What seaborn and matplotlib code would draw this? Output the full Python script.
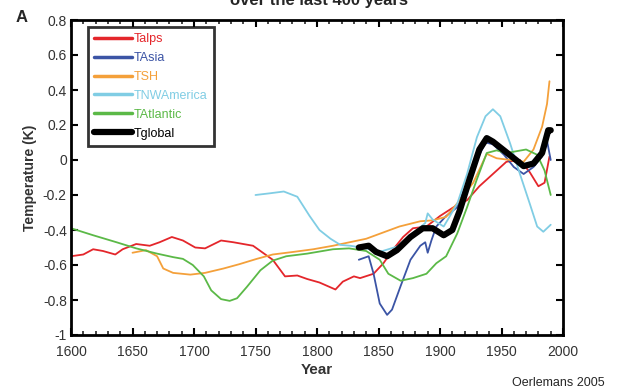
import matplotlib
matplotlib.use('Agg')
import matplotlib.pyplot as plt
import matplotlib.ticker as ticker
import seaborn as sns
import numpy as np

sns.set_style('ticks')
plt.rcParams['font.family'] = ['Liberation Sans', 'DejaVu Sans']

# ---- data (year, temperature anomaly K) ----
alps_year = [1600, 1610, 1618, 1626, 1636, 1642, 1653, 1664, 1672, 1682, 1691, 1701, 1709,
             1722, 1732, 1740, 1748, 1756, 1764, 1774, 1784, 1792, 1802, 1815, 1821, 1830,
             1835, 1846, 1854, 1862, 1870, 1878, 1889, 1900, 1911, 1922, 1932, 1943, 1954,
             1965, 1973, 1980, 1985, 1989]
alps_temp = [-0.55, -0.54, -0.51, -0.52, -0.54, -0.51, -0.48, -0.49, -0.47, -0.44, -0.46, -0.50,
             -0.505, -0.46, -0.47, -0.48, -0.49, -0.53, -0.57, -0.665, -0.66, -0.68, -0.70, -0.74,
             -0.695, -0.665, -0.675, -0.65, -0.59, -0.51, -0.44, -0.39, -0.38, -0.32, -0.27,
             -0.23, -0.15, -0.08, -0.01, 0.0, -0.07, -0.15, -0.13, 0.02]

asia_year = [1834, 1842, 1846, 1851, 1857, 1861, 1868, 1876, 1884, 1888, 1890, 1893, 1897,
             1905, 1914, 1922, 1930, 1937, 1943, 1952, 1960, 1968, 1976, 1983, 1987, 1990]
asia_temp = [-0.57, -0.55, -0.65, -0.82, -0.885, -0.855, -0.72, -0.57, -0.49, -0.47, -0.53,
             -0.46, -0.38, -0.32, -0.27, -0.13, 0.0, 0.10, 0.09, 0.03, -0.04, -0.08, -0.04,
             0.02, 0.11, 0.0]

sh_year = [1650, 1661, 1670, 1675, 1683, 1697, 1709, 1724, 1737, 1751, 1764, 1781, 1797,
           1813, 1840, 1867, 1884, 1894, 1905, 1916, 1927, 1938, 1946, 1957, 1968, 1976,
           1983, 1987, 1989]
sh_temp = [-0.53, -0.515, -0.55, -0.62, -0.645, -0.655, -0.645, -0.62, -0.595, -0.565,
           -0.54, -0.525, -0.51, -0.49, -0.45, -0.38, -0.35, -0.345, -0.325, -0.23, -0.13,
           0.035, 0.01, 0.0, -0.01, 0.06, 0.19, 0.32, 0.45]

nwam_year = [1750, 1762, 1773, 1784, 1794, 1802, 1811, 1819, 1827, 1840, 1851, 1865, 1878,
             1888, 1890, 1894, 1903, 1914, 1922, 1930, 1937, 1943, 1949, 1957, 1965, 1973,
             1979, 1984, 1990]
nwam_temp = [-0.20, -0.19, -0.18, -0.21, -0.32, -0.40, -0.45, -0.485, -0.49, -0.505,
             -0.525, -0.495, -0.42, -0.36, -0.305, -0.34, -0.38, -0.25, -0.08, 0.13, 0.25,
             0.29, 0.25, 0.095, -0.08, -0.25, -0.38, -0.41, -0.37]

atl_year = [1600, 1618, 1637, 1653, 1670, 1683, 1691, 1699, 1708, 1714, 1722, 1729, 1735,
            1743, 1754, 1764, 1775, 1792, 1813, 1826, 1840, 1851, 1858, 1868, 1878, 1889,
            1897, 1905, 1914, 1922, 1930, 1938, 1946, 1954, 1962, 1970, 1979, 1985, 1990]
atl_temp = [-0.39, -0.43, -0.47, -0.505, -0.535, -0.555, -0.565, -0.60, -0.665, -0.745,
            -0.795, -0.805, -0.79, -0.725, -0.63, -0.575, -0.55, -0.535, -0.51, -0.505,
            -0.52, -0.57, -0.65, -0.69, -0.675, -0.65, -0.59, -0.55, -0.42, -0.27, -0.11,
            0.04, 0.055, 0.04, 0.05, 0.06, 0.03, -0.06, -0.20]

glob_year = [1834, 1842, 1848, 1857, 1865, 1876, 1886, 1894, 1903, 1910, 1916, 1924, 1932,
             1938, 1943, 1952, 1960, 1968, 1976, 1983, 1988, 1990]
glob_temp = [-0.50, -0.49, -0.525, -0.55, -0.515, -0.44, -0.39, -0.39, -0.43, -0.40, -0.29,
             -0.11, 0.06, 0.125, 0.105, 0.055, 0.01, -0.035, -0.02, 0.04, 0.17, 0.17]

series = [
    ('Talps', alps_year, alps_temp, '#e4262b', 1.3),
    ('TAsia', asia_year, asia_temp, '#3b54a5', 1.3),
    ('TSH', sh_year, sh_temp, '#f4a03a', 1.3),
    ('TNWAmerica', nwam_year, nwam_temp, '#80cde4', 1.3),
    ('TAtlantic', atl_year, atl_temp, '#5bb947', 1.3),
    ('Tglobal', glob_year, glob_temp, '#000000', 4.5),
]

fig = plt.figure(figsize=(6.19, 3.92), dpi=100)
ax = fig.add_axes([71 / 619, 1 - 335 / 392, 492 / 619, 315 / 392])

for name, yr, tp, col, lw in series:
    sns.lineplot(x=yr, y=tp, ax=ax, color=col, linewidth=lw, label=name,
                 sort=False, estimator=None)

ax.set_xlim(1600, 2000)
ax.set_ylim(-1, 0.8)
ax.xaxis.set_major_locator(ticker.MultipleLocator(50))
ax.xaxis.set_minor_locator(ticker.MultipleLocator(10))
ax.yaxis.set_major_locator(ticker.MultipleLocator(0.2))
ax.yaxis.set_major_formatter(ticker.FuncFormatter(lambda v, p: '%g' % round(v, 1)))
ax.tick_params(axis='both', which='major', direction='in', length=5, width=1.5,
               top=True, right=True, labelsize=10, colors='black', labelcolor='#333333')
ax.tick_params(axis='x', which='major', pad=7)
ax.tick_params(axis='y', which='major', pad=3)
ax.tick_params(axis='x', which='minor', direction='in', length=3, width=1.2,
               top=True, bottom=True)
for s in ax.spines.values():
    s.set_linewidth(2)
    s.set_color('black')

ax.set_xlabel('Year', fontsize=11, fontweight='bold', color='#333333', labelpad=3)
ax.set_ylabel('Temperature (K)', fontsize=10, fontweight='bold', color='#333333', labelpad=4)

leg = ax.legend(loc='upper left', bbox_to_anchor=(0.035, 0.978), borderaxespad=0,
                fontsize=9, handlelength=3.0, handletextpad=0.15, labelspacing=0.55,
                borderpad=0.5, frameon=True, fancybox=False, labelcolor='linecolor')
leg.get_frame().set_edgecolor('black')
leg.get_frame().set_linewidth(2)
for h in leg.legend_handles:
    if h.get_linewidth() < 2:
        h.set_linewidth(2.5)

fig.text(0.515, 1 - 5 / 392, 'over the last 400 years', ha='center', va='baseline',
         fontsize=12, fontweight='bold')
fig.text(16 / 619, 1 - 17 / 392, 'A', ha='left', va='center', fontsize=12, fontweight='bold')
fig.text(605 / 619, 1 - 383 / 392, 'Oerlemans 2005', ha='right', va='center', fontsize=9)

fig.savefig('out.png', dpi=100)
